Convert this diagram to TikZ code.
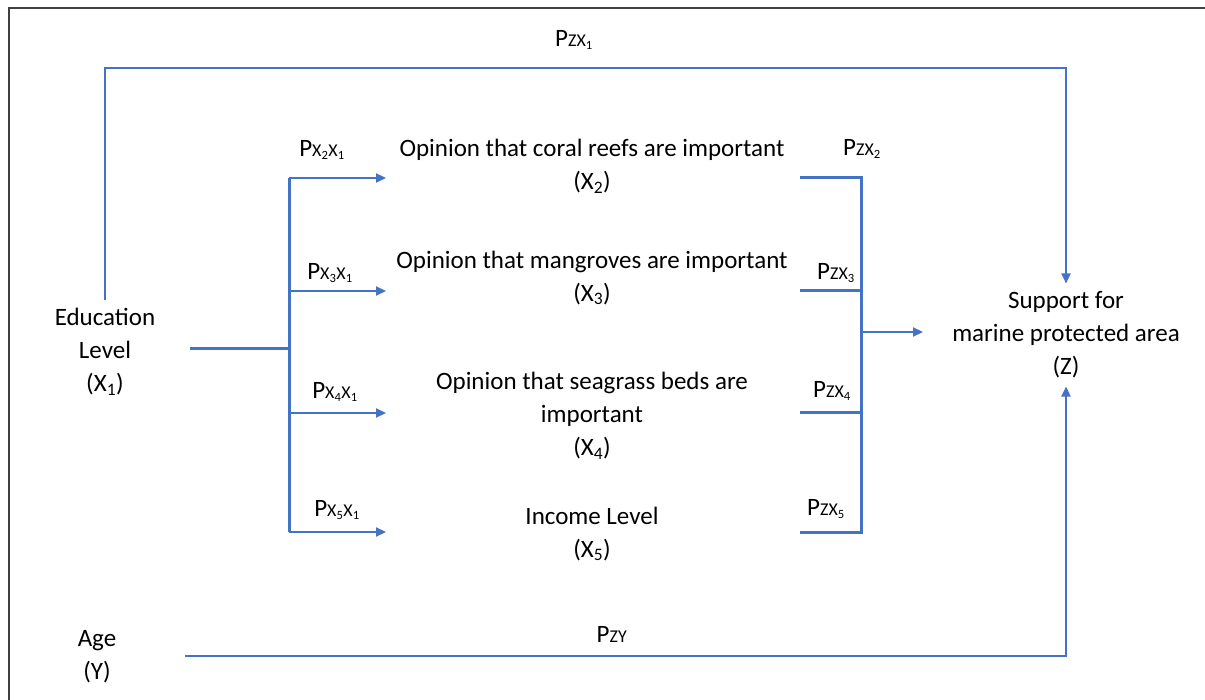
\documentclass[tikz,border=0pt]{standalone}
\usepackage{fontspec}
\setmainfont{Carlito}
\usetikzlibrary{arrows.meta, positioning}

\definecolor{pathblue}{RGB}{68,114,196}
\newcommand{\sbs}[1]{\textsubscript{#1}}
\newcommand{\pcoef}[2]{P{\fontsize{18}{18}\selectfont #1\sbs{#2}}}

\begin{document}
\begin{tikzpicture}[
    x=1pt, y=-1pt,
    var/.style={align=center, inner sep=8pt, font=\fontsize{25}{33}\selectfont},
    coef/.style={inner sep=1pt, font=\fontsize{25}{25}\selectfont},
    link/.style={pathblue, line width=3pt},
    arr/.style={pathblue, line width=2.2pt, -{Triangle[length=10pt,width=9pt]}}
]
\useasboundingbox (0,0) rectangle (1205,700);

% frame
\draw[black!75, line width=1.5pt] (9,700) -- (9,8) -- (1205,8);

% Variables
\node[var] (edu) at (105,352) {Education\\Level\\(X\sbs{1})};
\node[var] (age) at (97,657) {Age\\(Y)};
\node[var] (supp) at (1066,335) {Support for\\marine protected area\\(Z)};
\node[var] (cor) at (592,166) {Opinion that coral reefs are important\\(X\sbs{2})};
\node[var] (man) at (592,278) {Opinion that mangroves are important\\(X\sbs{3})};
\node[var] (sea) at (592,416) {Opinion that seagrass beds are\\important\\(X\sbs{4})};
\node[var] (inc) at (592,534) {Income Level\\(X\sbs{5})};

% Junctions
\coordinate (edustart) at (190,349);
\coordinate (split) at (289,349);
\coordinate (s2) at (289,178);
\coordinate (s3) at (289,291);
\coordinate (s4) at (289,413);
\coordinate (s5) at (289,532);
\coordinate (in2) at (386,178);
\coordinate (in3) at (386,291);
\coordinate (in4) at (386,413);
\coordinate (in5) at (386,532);
\coordinate (out2) at (800,178);
\coordinate (out3) at (800,291);
\coordinate (out4) at (800,413);
\coordinate (out5) at (800,532);
\coordinate (r2) at (861,178);
\coordinate (r5) at (861,532);
\coordinate (join) at (861,332);
\coordinate (joinend) at (923,332);
\coordinate (top) at (570,68);
\coordinate (agestart) at (185,656);

% Education to mediators
\draw[link] (edustart) -- (split);
\draw[link] (s2) -- (s5);
\draw[arr] (s2) -- (in2);
\draw[arr] (s3) -- (in3);
\draw[arr] (s4) -- (in4);
\draw[arr] (s5) -- (in5);

% Mediators to support
\draw[link] (out2) -- (r2) -- (r5) -- (out5);
\draw[link] (out3) -- (out3 -| r2);
\draw[link] (out4) -- (out4 -| r2);
\draw[arr] (join) -- (joinend);

% Direct paths
\draw[arr] (edu.north) |- (top) -| (supp.north);
\draw[arr] (agestart) -| (supp.south);

% Path coefficients
\node[coef] (pzx1) at (574,40) {\pcoef{ZX}{1}};
\node[coef] (px2x1) at (322,150) {\pcoef{X\sbs{2}X}{1}};
\node[coef] (px3x1) at (330,273) {\pcoef{X\sbs{3}X}{1}};
\node[coef] (px4x1) at (335,392) {\pcoef{X\sbs{4}X}{1}};
\node[coef] (px5x1) at (337,510) {\pcoef{X\sbs{5}X}{1}};
\node[coef] (pzx2) at (862,149) {\pcoef{ZX}{2}};
\node[coef] (pzx3) at (836,273) {\pcoef{ZX}{3}};
\node[coef] (pzx4) at (832,391) {\pcoef{ZX}{4}};
\node[coef] (pzx5) at (826,509) {\pcoef{ZX}{5}};
\node[coef] (pzy) at (612,636) {\pcoef{ZY}{}};

\end{tikzpicture}
\end{document}
